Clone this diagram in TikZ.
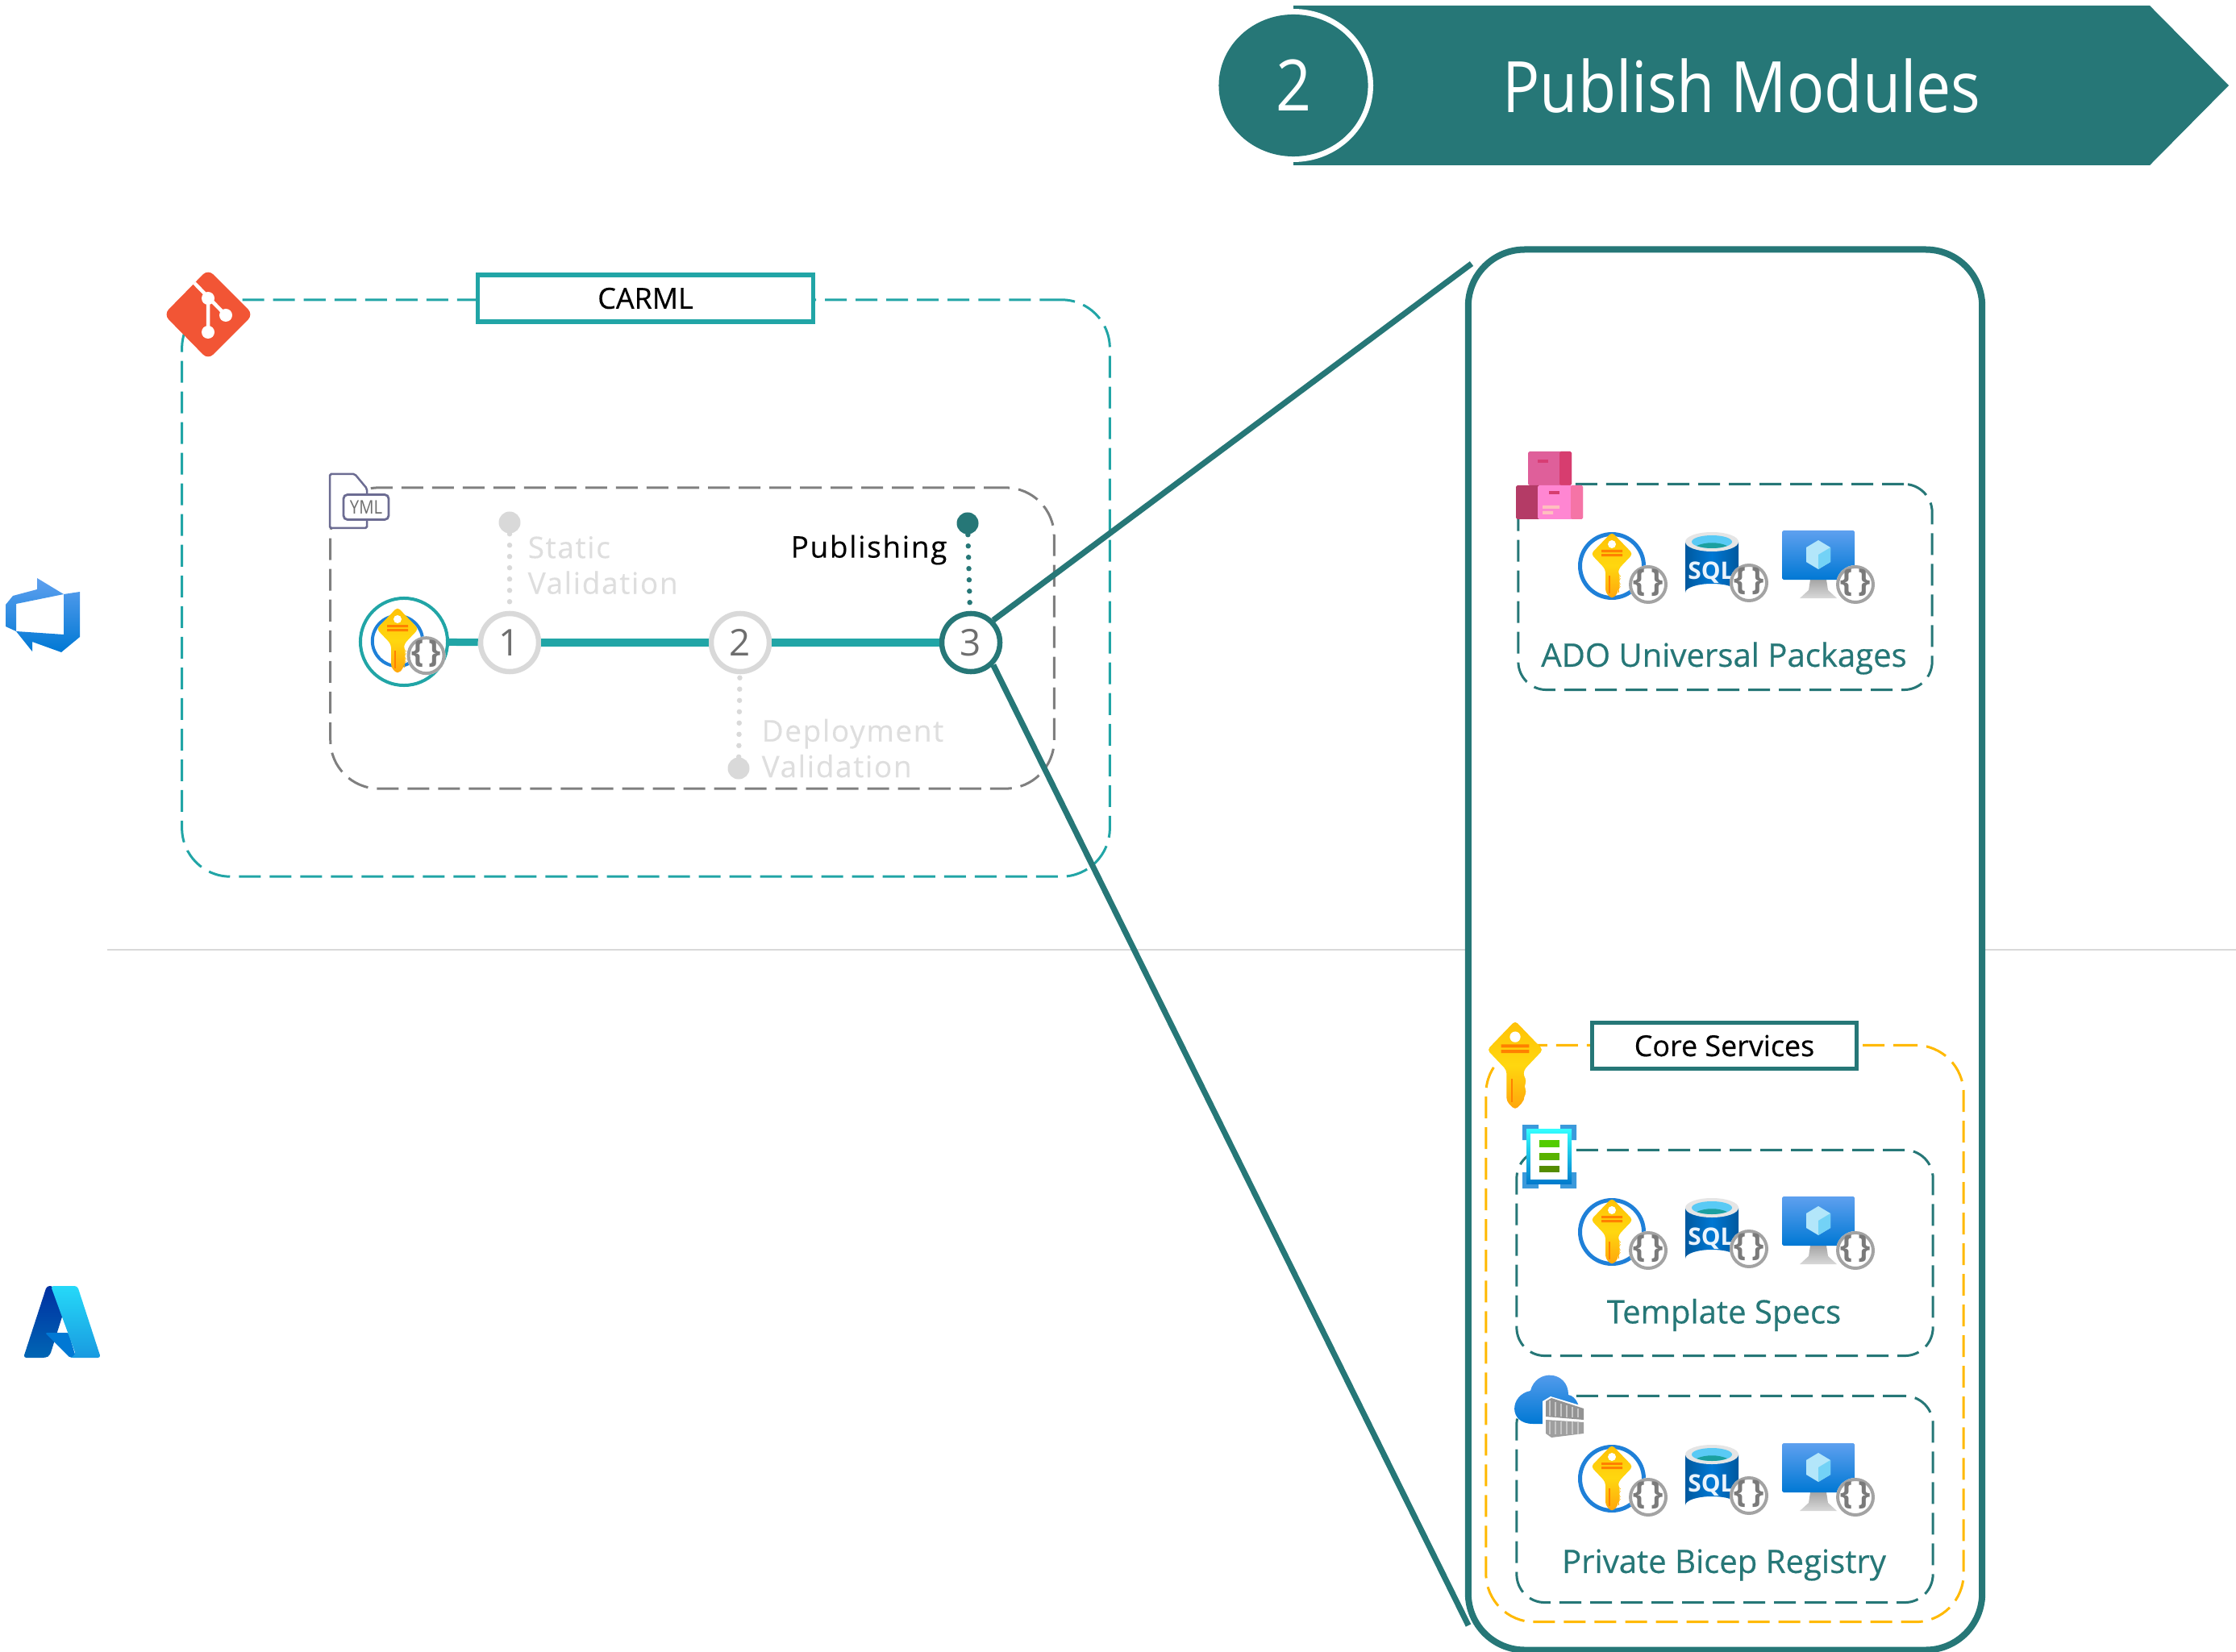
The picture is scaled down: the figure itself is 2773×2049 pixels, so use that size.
\documentclass[tikz,border=0pt]{standalone}
\usepackage{fontspec}
\setmainfont{Open Sans}
\newfontfamily\spacedfont[LetterSpace=4.5,FakeBold=.3]{Open Sans}
\newfontfamily\semifont[FakeBold=.45]{Open Sans}
\newfontfamily\titlefont[FakeStretch=.875]{Open Sans}
\usetikzlibrary{arrows.meta}
\usetikzlibrary{calc}
\usetikzlibrary{shapes.geometric}
\definecolor{darkteal}{HTML}{267777}
\definecolor{lightteal}{HTML}{21A5A6}
\definecolor{ringgray}{HTML}{D9D9D9}
\definecolor{labelgray}{HTML}{DEDEDE}
\definecolor{boxgray}{HTML}{7F7F7F}
\definecolor{numgray}{HTML}{6E6E6E}
\definecolor{coreyellow}{HTML}{FFB900}
\definecolor{azblue}{HTML}{1F80D8}
\definecolor{azlight}{HTML}{5EA0EF}
\definecolor{azdeep}{HTML}{0078D4}
\definecolor{azdark}{HTML}{00589E}
\definecolor{keytop}{HTML}{FFC107}
\definecolor{keymid}{HTML}{FFD70F}
\definecolor{keylow}{HTML}{FFA40C}
\definecolor{gitred}{HTML}{F25535}
\definecolor{badgegray}{HTML}{A3A3A3}
\definecolor{bracegray}{HTML}{7A7A7A}
\tikzset{
	dashbox/.style={draw,line width=.03cm,rounded corners=.6cm,dash pattern=on .27cm off .11cm,inner sep=0pt},
	titlebox/.style={draw=#1,fill=white,line width=.055cm,inner sep=0pt,font=\fontsize{10.2}{10}\semifont},
	stepnode/.style={circle,draw=#1,fill=white,line width=.065cm,minimum size=.72cm,inner sep=0pt,text=numgray,font=\fontsize{13}{13}\selectfont},
	dotnode/.style={circle,fill=#1,minimum size=.27cm,inner sep=0pt},
	dotline/.style={draw=#1,line width=.065cm,line cap=round,dash pattern=on 0pt off .14cm},
	stepline/.style={draw=lightteal,line width=.09cm},
	bigline/.style={draw=darkteal,line width=.072cm},
	steptext/.style={align=left,anchor=west,inner sep=0pt,font=\fontsize{10.5}{12.6}\spacedfont},
	storetext/.style={text=darkteal,inner sep=0pt,font=\fontsize{11.4}{11}\semifont},
	badgeicon/.pic={
		\fill[white] (0,0) circle (24);
		\fill[even odd rule,fill=badgegray] (0,0) circle (24) circle (20);
		\node[transform shape,inner sep=0pt,text=bracegray,font=\fontsize{11}{11}\bfseries] (-badgetext) at (0,-2) {\{\,\}};
	},
	keyicon/.pic={
		\path[top color=keytop,bottom color=keylow,middle color=keymid,rounded corners=1.2pt] (0,-42) -- (26,-15) -- (8,4) -- (8,10) -- (11,14) -- (8,19) -- (11,24) -- (8,29) -- (8,33) -- (0,41) -- (-8,33) -- (-8,4) -- (-26,-15) -- cycle;
		\fill[white] (0,-27) circle (5);
		\fill[orange] (-13,-20) rectangle (13,-17) (-13,-15) rectangle (13,-12);
		\fill[orange] (-4,12) rectangle (-2,34);
	},
	keyset/.pic={
		\fill[even odd rule,fill=azblue] (0,0) circle (42) circle (37);
		\pic at (0,0) {keyicon};
		\pic at (45,23) {badgeicon};
	},
	sqlset/.pic={
		\path[left color=azdark,right color=azdark,middle color=azdeep] (-33,-31) -- (33,-31) -- (33,32) arc (0:-180:33 and 11) -- cycle;
		\fill[gray!20] (0,-31) ellipse (33 and 12);
		\fill[cyan!65!white] (0,-31) ellipse (25 and 8);
		\fill[darkteal!70!cyan] (-19,-26) .. controls (-8,-31) and (8,-31) .. (19,-26) .. controls (8,-22) and (-8,-22) .. (-19,-26) -- cycle;
		\node[transform shape,text=white!92!azdeep,inner sep=0pt,font=\fontsize{8.5}{8.5}\bfseries] (-sqltext) at (-1,7) {SQL};
		\pic at (46,20) {badgeicon};
	},
	vmset/.pic={
		\path[top color=gray!70,bottom color=gray!30] (-10,19) -- (10,19) -- (12,32) -- (23,42) -- (-23,42) -- (-12,32) -- cycle;
		\path[top color=azlight,bottom color=azdeep,rounded corners=.5pt] (-45,-42) rectangle (45,19);
		\fill[cyan!30!white] (0,-30) -- (15,-21) -- (15,-3) -- (0,6) -- (-15,-3) -- (-15,-21) -- cycle;
		\fill[cyan!55!white] (0,-12) -- (15,-21) -- (15,-3) -- (0,6) -- cycle;
		\pic at (46,25) {badgeicon};
	},
}
\begin{document}
\begin{tikzpicture}[x=.01cm,y=-.01cm]
	\useasboundingbox (0,0) rectangle (2773,2049);

	% separator
	\coordinate (sepleft) at (133,1178);
	\coordinate (sepright) at (2773,1178);
	\draw[ringgray,line width=.02cm] (sepleft) -- (sepright);

	% banner
	\fill[darkteal] (1604,7) -- (2666,7) -- (2764,106) -- (2666,205) -- (1604,205) -- cycle;
	\fill[white] (1604,106) ellipse (99 and 95);
	\node[ellipse,fill=darkteal,minimum width=1.85cm,minimum height=1.76cm,inner sep=0pt,text=white,font=\fontsize{25}{25}\titlefont] (bannernum) at (1604,106) {2};
	\node[inner sep=0pt,text=white,font=\fontsize{25}{25}\titlefont] (bannertitle) at (2160,107) {Publish Modules};

	% logos on the left
	\path[top color=azlight,bottom color=azdeep,even odd rule] (46,717) -- (79,737) -- (99,734) -- (99,790) -- (76,809) -- (40,796) -- (40,808) -- (20,783) -- (7,777) -- (7,750) -- (16,739) -- (46,731) -- cycle (20,749) -- (79,737) -- (79,787) -- (20,783) -- cycle;
	\path[top color=blue!50!black!60!azdeep,bottom color=azdeep!85!black,rounded corners=1pt] (58,1595) -- (29,1684) -- (57,1684) -- (62,1681) -- (78,1630) -- (66,1595) -- cycle;
	\fill[azdeep,rounded corners=.5pt] (56,1653) -- (85,1653) -- (94,1683) -- (87,1684) -- cycle;
	\path[top color=cyan!60!azlight,bottom color=azblue!80!cyan,rounded corners=1pt] (63,1595) -- (96,1595) -- (125,1684) -- (87,1684) -- (94,1680) -- cycle;

	% CARML repository
	\node[dashbox,draw=lightteal,minimum width=11.5cm,minimum height=7.15cm] (carmlbox) at (801,729.5) {};
	\node[titlebox=lightteal,minimum width=4.16cm,minimum height=.58cm] (carmltitle) at (800.5,370) {CARML};
	\fill[gitred,rounded corners=2.5pt] (258,334) -- (314,390) -- (258,446) -- (203,390) -- cycle;
	\draw[white,line width=.045cm] (241,351) -- (280,391) (258,370) -- (258,412);
	\fill[white] (258,370) circle (8) (280,391) circle (8) (258,412) circle (8);

	% pipeline
	\node[dashbox,draw=boxgray,minimum width=8.97cm,minimum height=3.73cm] (pipebox) at (858.5,791.5) {};
	\fill[white,rounded corners=.5pt] (409,588) -- (439,588) -- (455,610) -- (455,655) -- (409,655) -- cycle;
	\draw[boxgray!85!blue,line width=.025cm,rounded corners=.5pt] (455,613) -- (455,606) -- (440,588) -- (409,588) -- (409,655) -- (455,655) -- (455,645);
	\node[draw=boxgray!85!blue,fill=white,rounded corners=.05cm,line width=.028cm,minimum width=.56cm,minimum height=.31cm,inner sep=0pt,text=numgray,font=\fontsize{6.6}{6.6}\titlefont] (ymltag) at (454,629) {YML};

	\node[circle,draw=lightteal,line width=.04cm,fill=white,minimum size=1.08cm,inner sep=0pt] (start) at (501,796) {};
	\pic[scale=.79] at (493,795) {keyset};
	\node[stepnode=ringgray] (n1) at (632,797) {1};
	\node[stepnode=ringgray] (n2) at (918,797) {2};
	\node[stepnode=darkteal] (n3) at (1204,797) {3};
	\draw[stepline] (start) -- (n1);
	\draw[stepline] (n1) -- (n2);
	\draw[stepline] (n2) -- (n3);

	\node[dotnode=ringgray] (dot1) at (632,648) {};
	\node[dotnode=ringgray] (dot2) at (916,953) {};
	\node[dotnode=darkteal] (dot3) at (1200,649) {};
	\draw[dotline=ringgray] (dot1) -- (n1);
	\draw[dotline=ringgray] (dot2) -- (n2);
	\draw[dotline=darkteal] (dot3) -- (n3);
	\node[steptext,text=labelgray] (statictext) at (654,701) {Static\\Validation};
	\node[steptext,text=labelgray] (deploytext) at (944,928) {Deployment\\Validation};
	\node[steptext] (publishtext) at (980,682) {Publishing};

	% stores
	\node[draw=darkteal,fill=white,line width=.08cm,rounded corners=.7cm,minimum width=6.37cm,minimum height=17.36cm,inner sep=0pt] (storebox) at (2139.5,1178) {};
	\coordinate (storetop) at (1825,327);
	\coordinate (storebottom) at (1821,2016);
	\draw[bigline] (n3.45) -- (storetop);
	\draw[bigline] (n3.-45) -- (storebottom);

	\node[dashbox,draw=darkteal,rounded corners=.35cm,minimum width=5.13cm,minimum height=2.55cm] (adobox) at (2139.5,728) {};
	\fill[magenta!55!pink!90!black,rounded corners=.5pt] (1895,560) rectangle (1949,602);
	\fill[magenta!60!red!75!gray,rounded corners=.5pt] (1934,560) rectangle (1949,602);
	\fill[magenta!65!red!75!gray] (1907,570) rectangle (1920,574);
	\fill[magenta!70!red!70!black,rounded corners=.5pt] (1880,602) rectangle (1910,644);
	\fill[pink!70!magenta,rounded corners=.5pt] (1907,602) rectangle (1963,644);
	\fill[magenta!40!pink,rounded corners=.5pt] (1948,602) rectangle (1963,644);
	\fill[magenta!60!red!75!gray] (1921,609) rectangle (1934,613);
	\fill[pink] (1913,627) rectangle (1934,631) (1913,634) rectangle (1926,638);
	\pic at (1999,702) {keyset};
	\pic at (2123,703) {sqlset};
	\pic at (2255,700) {vmset};
	\node[storetext] (adotext) at (2138,816.5) {ADO Universal Packages};

	\node[dashbox,draw=coreyellow,minimum width=5.92cm,minimum height=7.15cm] (corebox) at (2139,1654) {};
	\node[titlebox=darkteal,minimum width=3.28cm,minimum height=.57cm] (coretitle) at (2138.5,1297) {Core Services};
	\pic[scale=1.33] at (1879,1322) {keyicon};

	\node[dashbox,draw=darkteal,rounded corners=.35cm,minimum width=5.16cm,minimum height=2.55cm] (specbox) at (2139,1554) {};
	\fill[cyan!70!blue!80!white] (1888,1395) rectangle (1908,1414) (1935,1395) rectangle (1955,1414) (1888,1454) rectangle (1908,1474) (1935,1454) rectangle (1955,1474);
	\path[top color=cyan!80!white,bottom color=cyan!60!blue!80!black] (1893,1400) rectangle (1949,1468);
	\fill[white] (1898,1406) rectangle (1944,1463);
	\fill[green!60!yellow!80!black] (1909,1414) rectangle (1934,1423);
	\fill[green!50!yellow!70!black] (1909,1430) rectangle (1934,1439);
	\fill[green!40!yellow!55!black] (1909,1446) rectangle (1934,1454);
	\pic at (1999,1528) {keyset};
	\pic at (2123,1529) {sqlset};
	\pic at (2255,1526) {vmset};
	\node[storetext] (spectext) at (2138,1631) {Template Specs};

	\node[dashbox,draw=darkteal,rounded corners=.35cm,minimum width=5.16cm,minimum height=2.56cm] (regbox) at (2139,1859.5) {};
	\path[top color=azlight,bottom color=azdeep] (1901,1766) .. controls (1870,1766) and (1872,1730) .. (1898,1725) .. controls (1905,1697) and (1945,1700) .. (1945,1730) .. controls (1955,1732) and (1962,1745) .. (1958,1766) -- cycle;
	\fill[white] (1913,1738) -- (1923,1732) -- (1966,1745) -- (1966,1785) -- (1923,1785) -- (1913,1770) -- cycle;
	\fill[gray!85] (1917,1738) -- (1924,1734) -- (1964,1747) -- (1964,1761) -- (1917,1757) -- cycle;
	\fill[gray!75] (1917,1761) -- (1964,1764) -- (1964,1778) -- (1924,1783) -- (1917,1778) -- cycle;
	\foreach \ribx in {1922,1929,1936,1943,1950,1957}
		\draw[gray!45,line width=.02cm] (\ribx,{1736+(\ribx-1917)*.27}) -- (\ribx,{1756+(\ribx-1917)*.06}) (\ribx,1763) -- (\ribx,1779);
	\pic at (1999,1834) {keyset};
	\pic at (2123,1835) {sqlset};
	\pic at (2255,1832) {vmset};
	\node[storetext] (regtext) at (2138,1941) {Private Bicep Registry};
\end{tikzpicture}
\end{document}
